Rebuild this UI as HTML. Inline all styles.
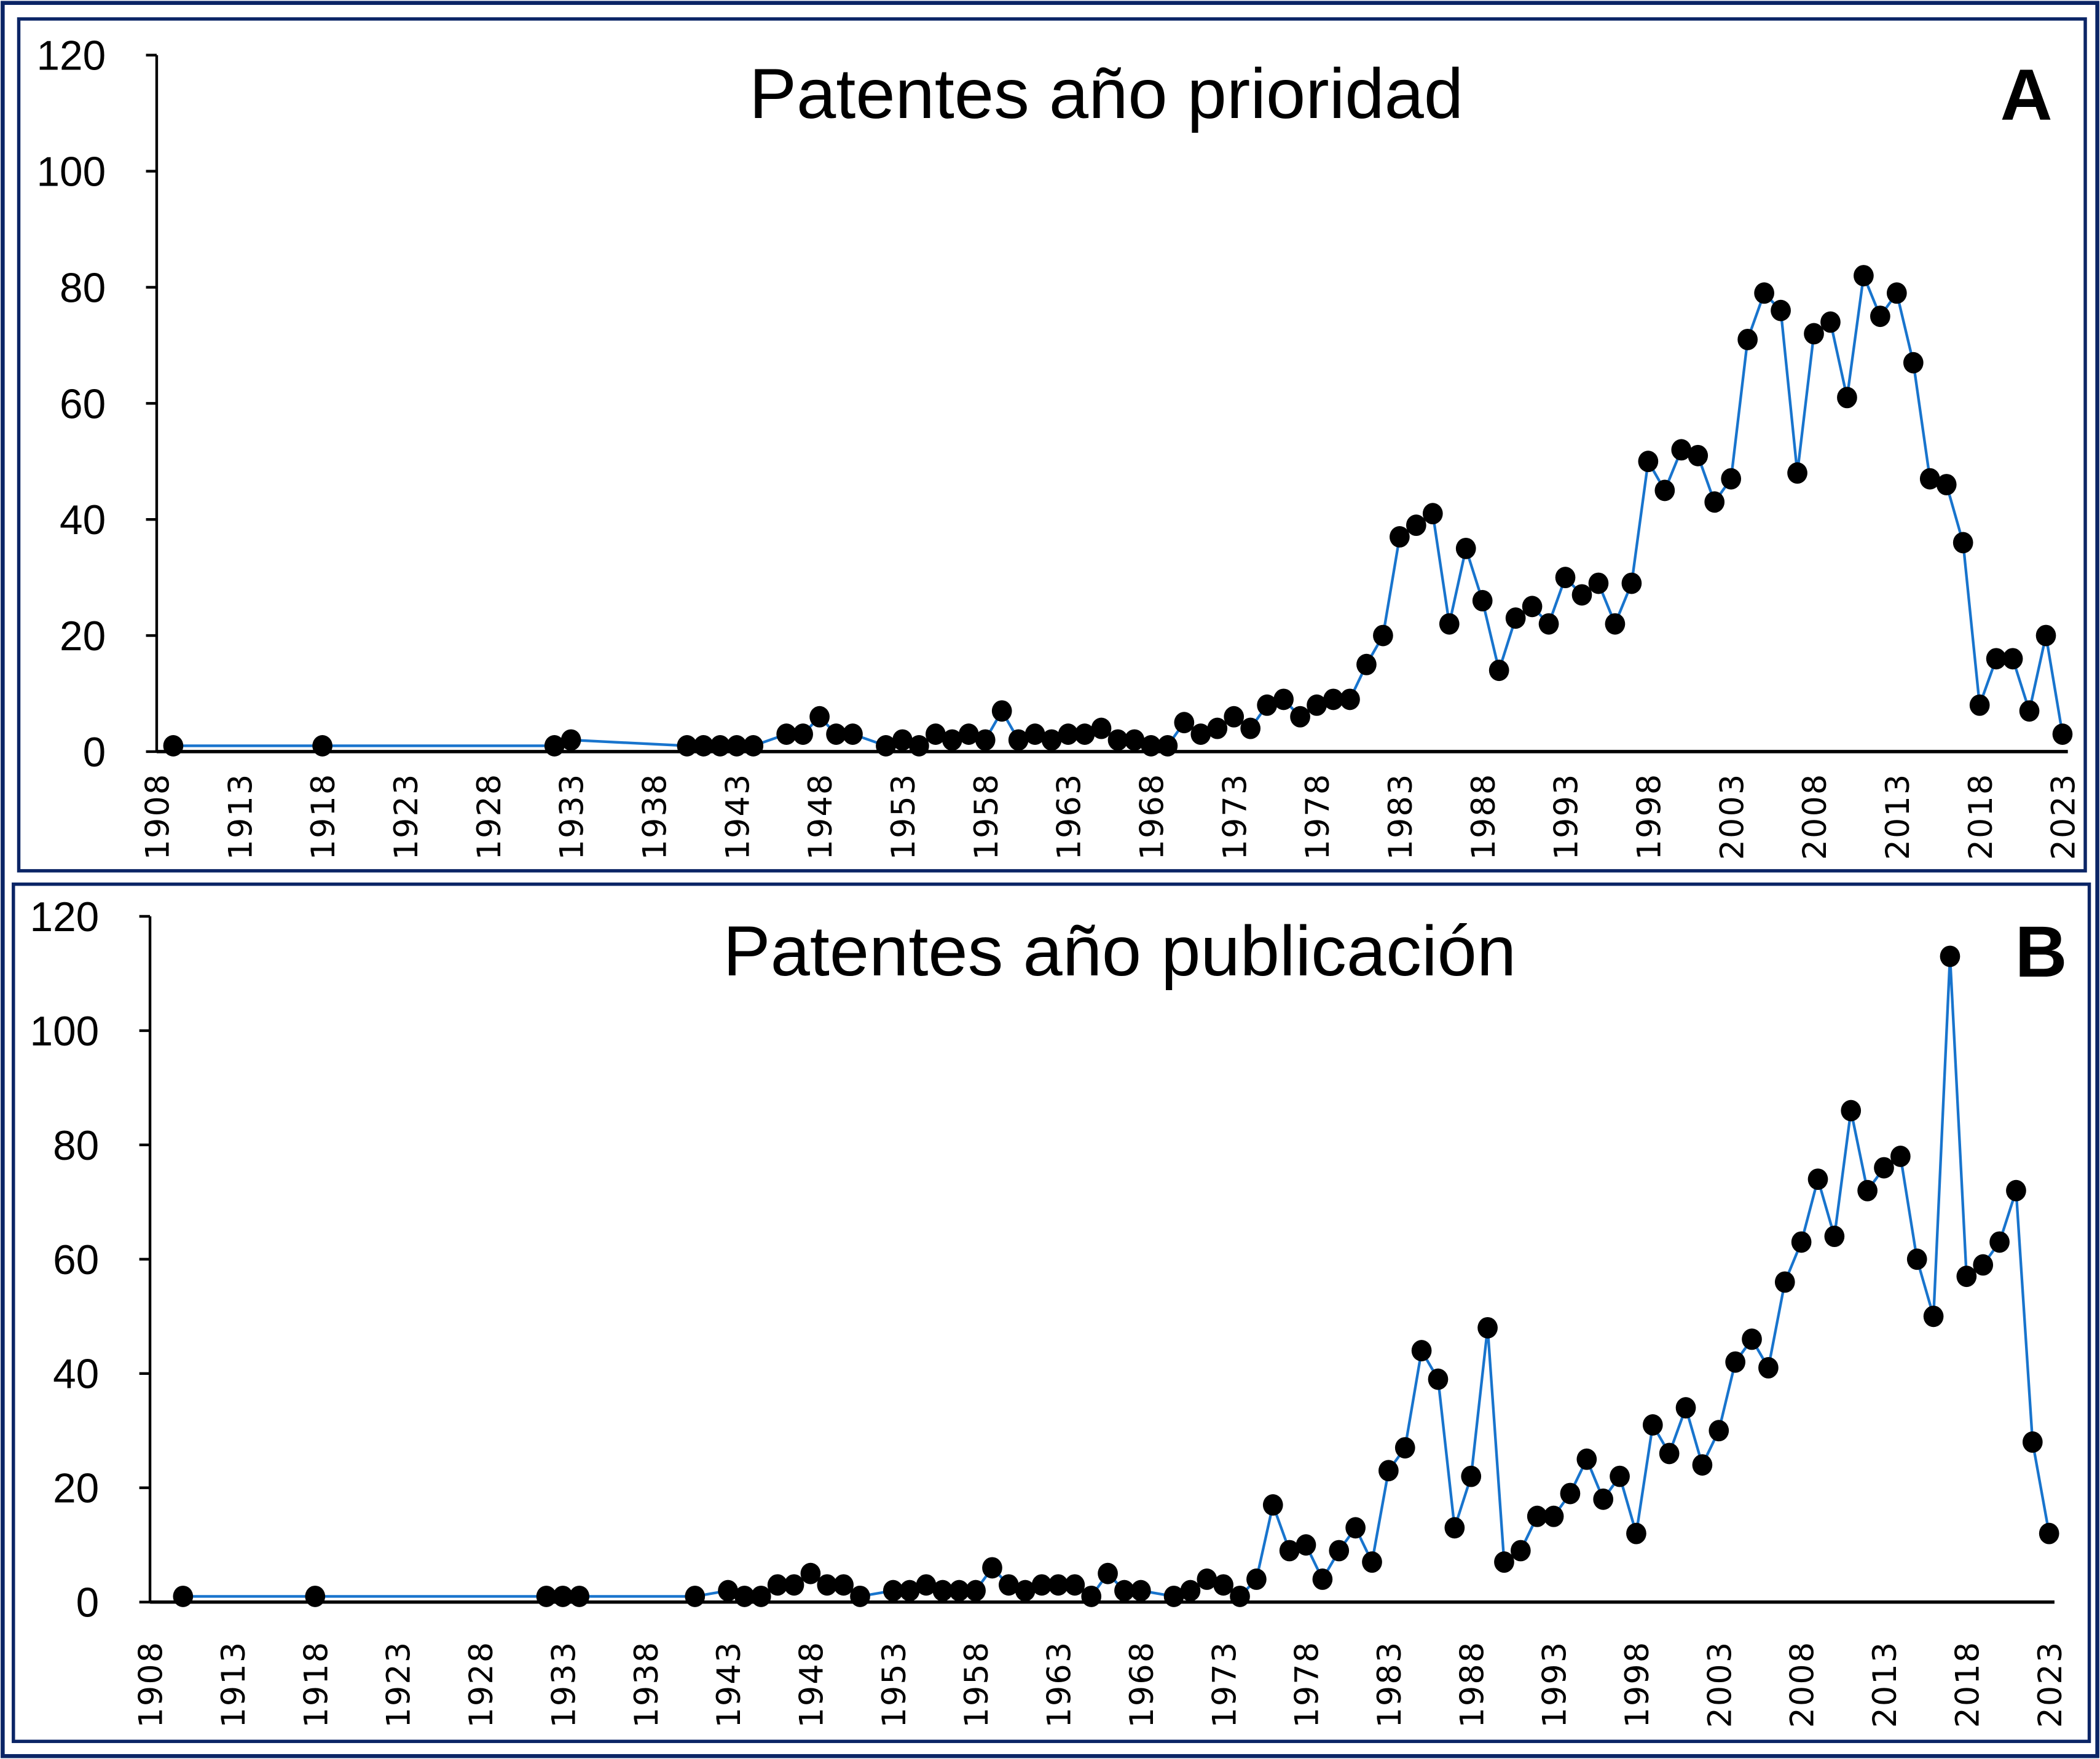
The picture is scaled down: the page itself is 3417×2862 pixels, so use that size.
<!DOCTYPE html>
<html><head><meta charset="utf-8"><style>
html,body{margin:0;padding:0;background:#fff}
svg{display:block}
</style></head><body>
<svg id="chart" width="3417" height="2862" viewBox="0 0 1568 1313" xmlns="http://www.w3.org/2000/svg" font-family="Liberation Sans, DejaVu Sans, sans-serif">
<rect x="2" y="2" width="1564" height="1309" fill="#fff" stroke="#0b2566" stroke-width="3"/>
<rect x="14" y="14" width="1543" height="636" fill="none" stroke="#0b2566" stroke-width="2.5"/>
<rect x="10" y="660" width="1550" height="640" fill="none" stroke="#0b2566" stroke-width="2.5"/>
<g id="gA"></g>
<g id="gB"></g>
</svg>
<script>
const yearsA=[1909,1918,1932,1933,1940,1941,1942,1943,1944,1946,1947,1948,1949,1950,1952,1953,1954,1955,1956,1957,1958,1959,1960,1961,1962,1963,1964,1965,1966,1967,1968,1969,1970,1971,1972,1973,1974,1975,1976,1977,1978,1979,1980,1981,1982,1983,1984,1985,1986,1987,1988,1989,1990,1991,1992,1993,1994,1995,1996,1997,1998,1999,2000,2001,2002,2003,2004,2005,2006,2007,2008,2009,2010,2011,2012,2013,2014,2015,2016,2017,2018,2019,2020,2021,2022,2023];
const valuesA=[1,1,1,2,1,1,1,1,1,3,3,6,3,3,1,2,1,3,2,3,2,7,2,3,2,3,3,4,2,2,1,1,5,3,4,6,4,8,9,6,8,9,9,15,20,37,39,41,22,35,26,14,23,25,22,30,27,29,22,29,50,45,52,51,43,47,71,79,76,48,72,74,61,82,75,79,67,47,46,36,8,16,16,7,20,3];
const yearsB=[1910,1918,1932,1933,1934,1941,1943,1944,1945,1946,1947,1948,1949,1950,1951,1953,1954,1955,1956,1957,1958,1959,1960,1961,1962,1963,1964,1965,1966,1967,1968,1970,1971,1972,1973,1974,1975,1976,1977,1978,1979,1980,1981,1982,1983,1984,1985,1986,1987,1988,1989,1990,1991,1992,1993,1994,1995,1996,1997,1998,1999,2000,2001,2002,2003,2004,2005,2006,2007,2008,2009,2010,2011,2012,2013,2014,2015,2016,2017,2018,2019,2020,2021,2022,2023];
const valuesB=[1,1,1,1,1,1,2,1,1,3,3,5,3,3,1,2,2,3,2,2,2,6,3,2,3,3,3,1,5,2,2,1,2,4,3,1,4,17,9,10,4,9,13,7,23,27,44,39,13,22,48,7,9,15,15,19,25,18,22,12,31,26,34,24,30,42,46,41,56,63,74,64,86,72,76,78,60,50,113,57,59,63,72,28,12];
const yTicks=[0,20,40,60,80,100,120];
const xTicks=[1908,1913,1918,1923,1928,1933,1938,1943,1948,1953,1958,1963,1968,1973,1978,1983,1988,1993,1998,2003,2008,2013,2018,2023];
const NS='http://www.w3.org/2000/svg';
function mk(p,t,a){const e=document.createElementNS(NS,t);for(const k in a)e.setAttribute(k,a[k]);p.appendChild(e);return e;}
function panel(g,cfg,years,vals,title,letter,pid){
  const xs=y=>cfg.x0+(y-1908)*(cfg.x1-cfg.x0)/115;
  const ys=v=>cfg.y0-v*(cfg.y0-cfg.y120)/120;
  let a=mk(g,'line',{x1:cfg.ax,y1:cfg.y120,x2:cfg.ax,y2:cfg.y0,stroke:'#000','stroke-width':2});
  
  yTicks.forEach(t=>{
    const l=mk(g,'line',{x1:cfg.ax-8,x2:cfg.ax,y1:ys(t),y2:ys(t),stroke:'#000','stroke-width':2});
    
    const tx=mk(g,'text',{x:cfg.ax-38,y:ys(t)+11,'text-anchor':'end','font-size':31,'transform':'','fill':'#000'});
    tx.textContent=t;
  });
  xTicks.forEach(t=>{
    const x=xs(t);
    const tx=mk(g,'text',{transform:`translate(${x+9},${cfg.labY}) rotate(-90)`,'text-anchor':'start','font-size':24,'font-family':'DejaVu Sans, sans-serif','letter-spacing':'1',fill:'#000'});
    tx.textContent=t;
  });
  const pts=years.map((y,i)=>xs(y)+','+ys(vals[i])).join(' ');
  const pl=mk(g,'polyline',{points:pts,fill:'none',stroke:'#1874cd','stroke-width':2});
  
  years.forEach((y,i)=>{
    const c=mk(g,'ellipse',{cx:xs(y),cy:ys(vals[i]),rx:7.5,ry:8,fill:'#000'});
    
  });
  const xa=mk(g,'line',{x1:cfg.ax,y1:cfg.y0,x2:cfg.x1+4,y2:cfg.y0,stroke:'#000','stroke-width':2.5});
  
  const ti=mk(g,'text',{x:cfg.tx,y:cfg.ty,'text-anchor':'middle','font-size':53,fill:'#000','font-family':'Liberation Sans, sans-serif'});
  ti.textContent=title;
  const le=mk(g,'text',{x:cfg.lx,y:cfg.ty+1,'text-anchor':'middle','font-size':54,'font-weight':'bold',fill:'#000'});
  le.textContent=letter;
}
panel(document.getElementById('gA'),{x0:117,x1:1540,ax:117,y0:561,y120:41,labY:642,tx:826,ty:88,lx:1513},yearsA,valuesA,'Patentes año prioridad','A','panel-a');
panel(document.getElementById('gB'),{x0:112,x1:1530,ax:112,y0:1196,y120:684,labY:1290,tx:836,ty:728,lx:1524},yearsB,valuesB,'Patentes año publicación','B','panel-b');
</script>
</body></html>
